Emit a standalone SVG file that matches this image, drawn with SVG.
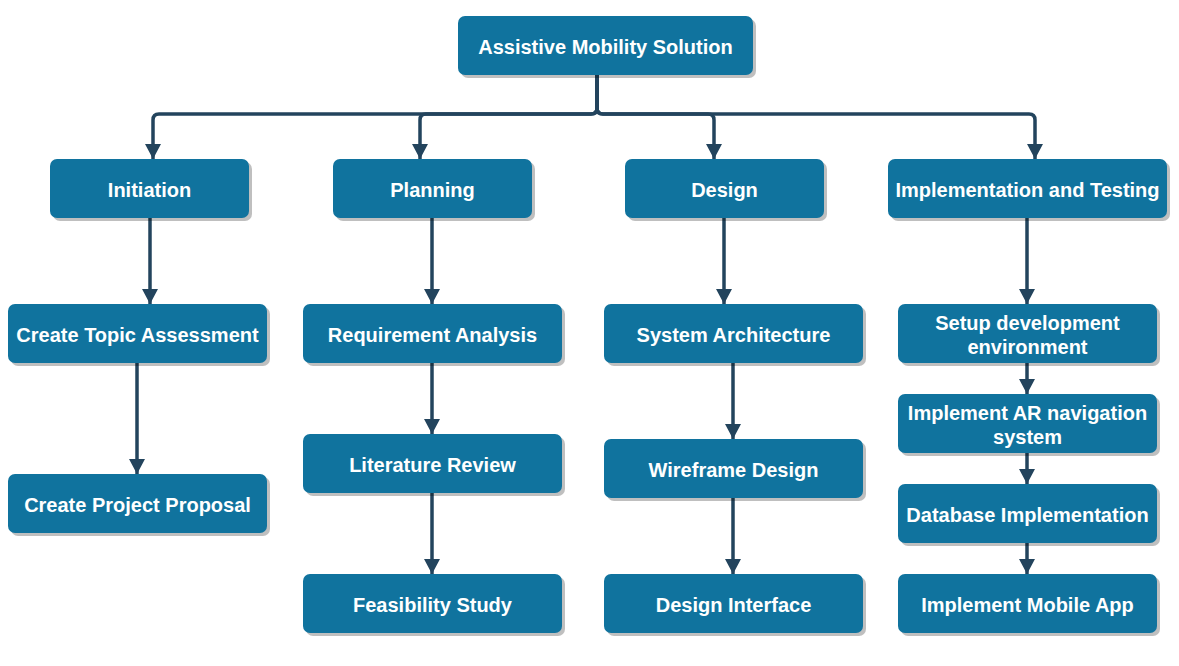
<svg xmlns="http://www.w3.org/2000/svg" width="1179" height="666" viewBox="0 0 1179 666">
<defs>
<marker id="arr" viewBox="0 0 15 16" refX="15" refY="8" markerWidth="15" markerHeight="16" markerUnits="userSpaceOnUse" orient="auto">
<path d="M0,0 L15,8 L0,16 Z" fill="#23445D"/>
</marker>
</defs>
<style>
.sh{fill:#000;opacity:0.25}
.bx{fill:#10739E}
.t{font-family:"Liberation Sans",Arial,sans-serif;font-weight:bold;font-size:20px;fill:#fff;text-anchor:middle;dominant-baseline:central}
.c{fill:none;stroke:#23445D;stroke-width:3.5;marker-end:url(#arr)}
</style>
<rect width="1179" height="666" fill="#fff"/>
<g id="connectors">
<path class="c" d="M597,75 V108 Q597,114 591,114 H159 Q153,114 153,120 V159"/>
<path class="c" d="M597,75 V108 Q597,114 591,114 H426 Q420,114 420,120 V159"/>
<path class="c" d="M597,75 V108 Q597,114 603,114 H708 Q714,114 714,120 V159"/>
<path class="c" d="M597,75 V108 Q597,114 603,114 H1029 Q1035,114 1035,120 V159"/>
<path class="c" d="M150,218 V304"/>
<path class="c" d="M137,363 V474"/>
<path class="c" d="M432,218 V304"/>
<path class="c" d="M432,363 V434"/>
<path class="c" d="M432,493 V574"/>
<path class="c" d="M724,218 V304"/>
<path class="c" d="M733,363 V439"/>
<path class="c" d="M733,498 V574"/>
<path class="c" d="M1027,218 V304"/>
<path class="c" d="M1027,363 V394"/>
<path class="c" d="M1027,453 V484"/>
<path class="c" d="M1027,543 V574"/>
</g>
<g id="root"><rect class="sh" x="461" y="19" width="295" height="59" rx="7"/><rect class="bx" x="458" y="16" width="295" height="59" rx="7"/><text class="t" x="605.5" y="47">Assistive Mobility Solution</text></g>
<g id="initiation"><rect class="sh" x="53" y="162" width="199" height="59" rx="7"/><rect class="bx" x="50" y="159" width="199" height="59" rx="7"/><text class="t" x="149.5" y="190">Initiation</text></g>
<g id="planning"><rect class="sh" x="336" y="162" width="199" height="59" rx="7"/><rect class="bx" x="333" y="159" width="199" height="59" rx="7"/><text class="t" x="432.5" y="190">Planning</text></g>
<g id="design"><rect class="sh" x="628" y="162" width="199" height="59" rx="7"/><rect class="bx" x="625" y="159" width="199" height="59" rx="7"/><text class="t" x="724.5" y="190">Design</text></g>
<g id="impl"><rect class="sh" x="891" y="162" width="279" height="59" rx="7"/><rect class="bx" x="888" y="159" width="279" height="59" rx="7"/><text class="t" x="1027.5" y="190">Implementation and Testing</text></g>
<g id="topic"><rect class="sh" x="11" y="307" width="259" height="59" rx="7"/><rect class="bx" x="8" y="304" width="259" height="59" rx="7"/><text class="t" x="137.5" y="335">Create Topic Assessment</text></g>
<g id="proposal"><rect class="sh" x="11" y="477" width="259" height="59" rx="7"/><rect class="bx" x="8" y="474" width="259" height="59" rx="7"/><text class="t" x="137.5" y="505">Create Project Proposal</text></g>
<g id="req"><rect class="sh" x="306" y="307" width="259" height="59" rx="7"/><rect class="bx" x="303" y="304" width="259" height="59" rx="7"/><text class="t" x="432.5" y="335">Requirement Analysis</text></g>
<g id="lit"><rect class="sh" x="306" y="437" width="259" height="59" rx="7"/><rect class="bx" x="303" y="434" width="259" height="59" rx="7"/><text class="t" x="432.5" y="465">Literature Review</text></g>
<g id="feas"><rect class="sh" x="306" y="577" width="259" height="59" rx="7"/><rect class="bx" x="303" y="574" width="259" height="59" rx="7"/><text class="t" x="432.5" y="605">Feasibility Study</text></g>
<g id="sysarch"><rect class="sh" x="607" y="307" width="259" height="59" rx="7"/><rect class="bx" x="604" y="304" width="259" height="59" rx="7"/><text class="t" x="733.5" y="335">System Architecture</text></g>
<g id="wire"><rect class="sh" x="607" y="442" width="259" height="59" rx="7"/><rect class="bx" x="604" y="439" width="259" height="59" rx="7"/><text class="t" x="733.5" y="470">Wireframe Design</text></g>
<g id="ui"><rect class="sh" x="607" y="577" width="259" height="59" rx="7"/><rect class="bx" x="604" y="574" width="259" height="59" rx="7"/><text class="t" x="733.5" y="605">Design Interface</text></g>
<g id="setup"><rect class="sh" x="901" y="307" width="259" height="59" rx="7"/><rect class="bx" x="898" y="304" width="259" height="59" rx="7"/><text class="t" x="1027.5" y="323">Setup development</text><text class="t" x="1027.5" y="347">environment</text></g>
<g id="ar"><rect class="sh" x="901" y="397" width="259" height="59" rx="7"/><rect class="bx" x="898" y="394" width="259" height="59" rx="7"/><text class="t" x="1027.5" y="413">Implement AR navigation</text><text class="t" x="1027.5" y="437">system</text></g>
<g id="db"><rect class="sh" x="901" y="487" width="259" height="59" rx="7"/><rect class="bx" x="898" y="484" width="259" height="59" rx="7"/><text class="t" x="1027.5" y="515">Database Implementation</text></g>
<g id="mobile"><rect class="sh" x="901" y="577" width="259" height="59" rx="7"/><rect class="bx" x="898" y="574" width="259" height="59" rx="7"/><text class="t" x="1027.5" y="605">Implement Mobile App</text></g>
</svg>
